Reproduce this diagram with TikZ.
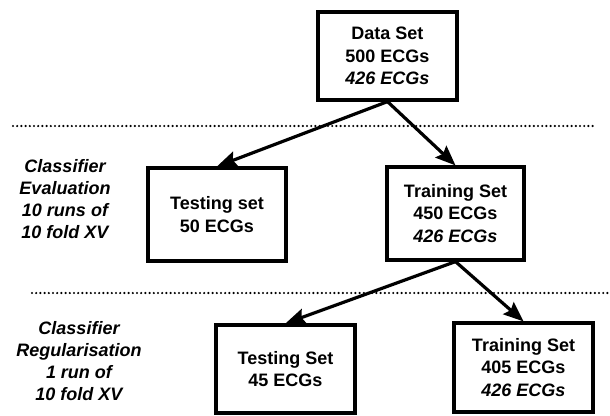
\documentclass[tikz,border=0pt]{standalone}
\usepackage{fontspec}
\setmainfont{Liberation Sans}
\usetikzlibrary{arrows.meta}
\begin{document}
\begin{tikzpicture}[x=1pt,y=-1pt,
  box/.style={draw=black,line width=3.2pt,fill=white,inner sep=0pt,align=center,
    font=\bfseries\fontsize{18}{22.5}\selectfont},
  lbl/.style={align=center,inner sep=0pt,font=\bfseries\itshape\fontsize{18}{22}\selectfont},
  conn/.style={line width=3.2pt,-{Stealth[length=20pt,width=16pt,inset=3pt]}},
  sep/.style={line width=2.4pt,line cap=round,dash pattern=on 0pt off 4.2pt}]
\useasboundingbox (0,0) rectangle (610,415);
% separators
\coordinate (s1a) at (13,126);
\coordinate (s1b) at (596,126);
\coordinate (s2a) at (32,293);
\coordinate (s2b) at (609,293);
\draw[sep] (s1a) -- (s1b);
\draw[sep] (s2a) -- (s2b);
% boxes
\node[box,minimum width=139pt,minimum height=88pt] (data) at (387.5,56) {Data Set\\500 ECGs\\\textit{426 ECGs}};
\node[box,minimum width=138pt,minimum height=93pt] (test2) at (217,214.5) {Testing set\\50 ECGs};
\node[box,minimum width=137pt,minimum height=93pt] (train2) at (455.5,213.5) {Training Set\\450 ECGs\\\textit{426 ECGs}};
\node[box,minimum width=139pt,minimum height=88pt] (test3) at (285.5,369) {Testing Set\\45 ECGs};
\node[box,minimum width=139pt,minimum height=89pt] (train3) at (523.5,367.5) {Training Set\\405 ECGs\\\textit{426 ECGs}};
% labels
\node[lbl] (lab1) at (65,199) {Classifier\\Evaluation\\10 runs of\\10 fold XV};
\node[lbl] (lab2) at (79,361) {Classifier\\Regularisation\\1 run of\\10 fold XV};
% connectors
\draw[conn] (data.south) -- (test2.north);
\draw[conn] (data.south) -- (train2.north);
\draw[conn] (train2.south) -- (test3.north);
\draw[conn] (train2.south) -- (train3.north);
\end{tikzpicture}
\end{document}
